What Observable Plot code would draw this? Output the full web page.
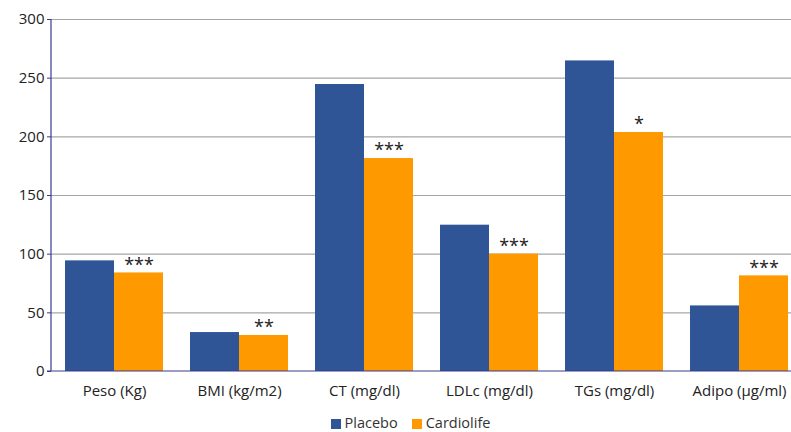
<!DOCTYPE html>
<html>
<head>
<meta charset="utf-8">
<script src="https://cdn.jsdelivr.net/npm/d3@7"></script>
<script src="https://cdn.jsdelivr.net/npm/@observablehq/plot@0.6"></script>
<style>
  body { margin: 0; background: #fff; font-family: "Open Sans", sans-serif; overflow: hidden; }
  #chart svg { display: block; }
  .legend { display: flex; justify-content: center; gap: 14px; font-size: 14.5px; color: #333; height: 18px; line-height: 18px; padding-top: 4px; margin-left: 30px; }
  .legend span.sw { display: inline-block; width: 10px; height: 10px; margin-right: 4px; vertical-align: -1px; }
</style>
</head>
<body>
<div id="chart"></div>
<div class="legend">
  <div><span class="sw" style="background:#2F5597"></span>Placebo</div>
  <div><span class="sw" style="background:#FF9900"></span>Cardiolife</div>
</div>
<script>
const categories = ["Peso (Kg)", "BMI (kg/m2)", "CT (mg/dl)", "LDLc (mg/dl)", "TGs (mg/dl)", "Adipo (µg/ml)"];
const placebo = [94.3, 33.2, 244.6, 124.7, 264.7, 55.9];
const cardiolife = [84.0, 30.7, 181.5, 100.0, 203.7, 81.5];
const stars = ["***", "**", "***", "***", "*", "***"];
const yTicks = [0, 50, 100, 150, 200, 250, 300];

const pData = categories.map((c, i) => ({category: c, value: placebo[i]}));
const cData = categories.map((c, i) => ({category: c, value: cardiolife[i], star: stars[i]}));

const W = 791, H = 410;
const xRange = [51.5, 801.5];
const padIn = 0.216;
const bw = (xRange[1] - xRange[0]) / categories.length * (1 - padIn);
const half = bw / 2;
const navy = "#3A3A8C";

const axisLines = (index, scales, values, dims) => {
  const g = d3.create("svg:g");
  g.append("line")
    .attr("x1", dims.marginLeft).attr("x2", dims.marginLeft)
    .attr("y1", scales.y(300)).attr("y2", scales.y(0))
    .attr("stroke", navy).attr("stroke-width", 1.2);
  g.append("line")
    .attr("x1", dims.marginLeft - 4).attr("x2", dims.width)
    .attr("y1", scales.y(0)).attr("y2", scales.y(0))
    .attr("stroke", navy).attr("stroke-width", 1.2);
  return g.node();
};

const chart = Plot.plot({
  width: W,
  height: H,
  marginLeft: 51,
  marginRight: 0,
  marginTop: 19,
  marginBottom: 39,
  style: {fontFamily: "'Open Sans', sans-serif", fontSize: "15px", color: "#333", background: "#fff"},
  x: {domain: categories, range: xRange, paddingInner: padIn, paddingOuter: padIn / 2, label: null},
  y: {domain: [0, 300], label: null},
  marks: [
    Plot.ruleY(yTicks.filter(d => d > 0), {stroke: "#A6A6A6", strokeWidth: 1.2}),
    Plot.barY(pData, {x: "category", y: "value", fill: "#2F5597", insetRight: half}),
    Plot.barY(cData, {x: "category", y: "value", fill: "#FF9900", insetLeft: half}),
    Plot.text(cData, {x: "category", y: "value", text: "star", dx: half / 2, dy: -8, fontSize: 18, fill: "#222", fontWeight: "normal"}),
    Plot.axisY({ticks: yTicks, tickSize: 4, tickPadding: 3, stroke: navy, fill: "#222", fontSize: 15}),
    Plot.axisX({tickSize: 0, tickPadding: 14, fill: "#222", fontSize: 15}),
    axisLines
  ]
});
document.getElementById("chart").appendChild(chart);
</script>
</body>
</html>
